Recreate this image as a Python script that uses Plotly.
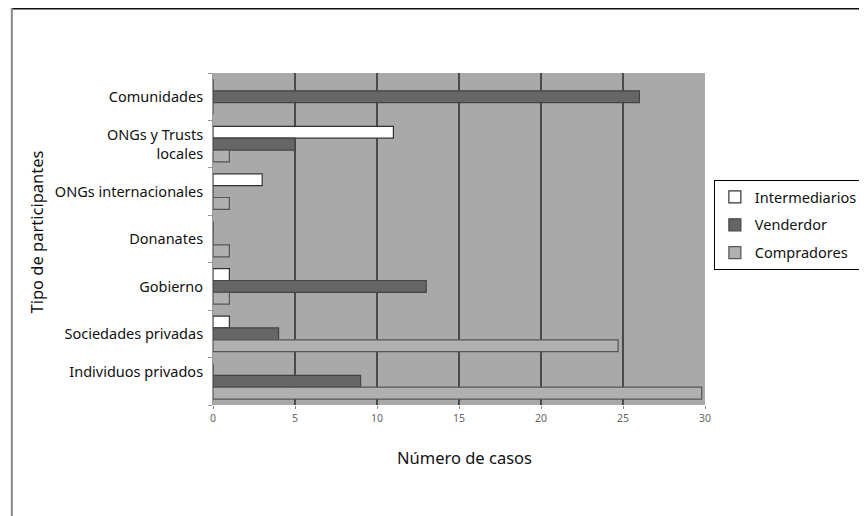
import plotly.graph_objects as go

categories = ["Comunidades", "ONGs y Trusts<br>locales", "ONGs internacionales",
              "Donanates", "Gobierno", "Sociedades privadas", "Individuos privados"]
tick_labels = ["Comunidades", "ONGs y Trusts<br>locales", "ONGs internacionales",
               "Donanates", "Gobierno", "Sociedades privadas", "Individuos privados<br> "]
intermediarios = [0, 11, 3, 0, 1, 1, 0]
vendedor = [26, 5, 0, 0, 13, 4, 9]
compradores = [0, 1, 1, 1, 1, 24.7, 29.8]
x_ticks = [0, 5, 10, 15, 20, 25, 30]

FONT = "Noto Sans"
W, H = 867, 516
OFF = 8  # default page body margin
L, R, T, B = 205, 163, 65, 119
pw, ph = W - L - R, H - T - B

def px(x):  # page pixel -> paper x
    return (x - OFF - L) / pw

def py(y):  # page pixel -> paper y
    return (H - B - (y - OFF)) / ph

fig = go.Figure()
series = [("Intermediarios", intermediarios, "#ffffff", "#333333"),
          ("Venderdor", vendedor, "#666666", "#444444"),
          ("Compradores", compradores, "#b0b0b0", "#555555")]
for name, vals, fill, line in series:
    fig.add_trace(go.Bar(
        y=categories, x=vals, name=name, orientation="h",
        marker=dict(color=fill, line=dict(color=line, width=1.2)),
        legendgroup=name,
    ))

fig.update_layout(
    width=W, height=H,
    margin=dict(l=L, r=R, t=T, b=B),
    paper_bgcolor="white",
    plot_bgcolor="#a9a9a9",
    barmode="group",
    bargap=0.25,
    bargroupgap=0,
    font=dict(family=FONT, size=14.5, color="#111111"),
    showlegend=True,
    legend=dict(
        x=px(721), y=py(180), xanchor="left", yanchor="top",
        bordercolor="#000000", borderwidth=1,
        font=dict(family=FONT, size=14.5, color="#111111"),
        traceorder="grouped", tracegroupgap=6,
        itemwidth=30,
    ),
    xaxis=dict(
        range=[0, 30], tickvals=x_ticks,
        showgrid=True, gridcolor="#4a4a4a", gridwidth=2,
        zeroline=False, showline=False,
        ticks="outside", ticklen=3, tickcolor="#888888",
        tickfont=dict(family=FONT, size=10.5, color="#666666"),
        fixedrange=True,
    ),
    yaxis=dict(
        autorange="reversed",
        tickmode="array", tickvals=categories, ticktext=tick_labels,
        showgrid=False, zeroline=False,
        showline=True, linecolor="#999999", linewidth=1,
        ticks="outside", ticklen=4, tickcolor="#999999",
        tickson="boundaries",
        tickfont=dict(family=FONT, size=14.5, color="#111111"),
        ticklabelstandoff=6,
        fixedrange=True,
    ),
    annotations=[
        dict(text="Número de casos", xref="paper", yref="paper",
             x=px(468), y=py(457), xanchor="center", yanchor="middle",
             showarrow=False, font=dict(family=FONT, size=16.5, color="#111111")),
        dict(text="Tipo de participantes", xref="paper", yref="paper",
             x=px(33), y=py(232), xanchor="center", yanchor="middle",
             textangle=-90, showarrow=False,
             font=dict(family=FONT, size=16.5, color="#111111")),
    ],
    shapes=[
        dict(type="line", xref="paper", yref="paper",
             x0=px(OFF), x1=px(867 + OFF), y0=py(OFF + 0.75), y1=py(OFF + 0.75),
             line=dict(color="#111111", width=1.5)),
        dict(type="line", xref="paper", yref="paper",
             x0=px(OFF + 1), x1=px(OFF + 1), y0=py(OFF), y1=py(516 + OFF),
             line=dict(color="#888888", width=2)),
    ],
)

fig.write_html("out.html")
